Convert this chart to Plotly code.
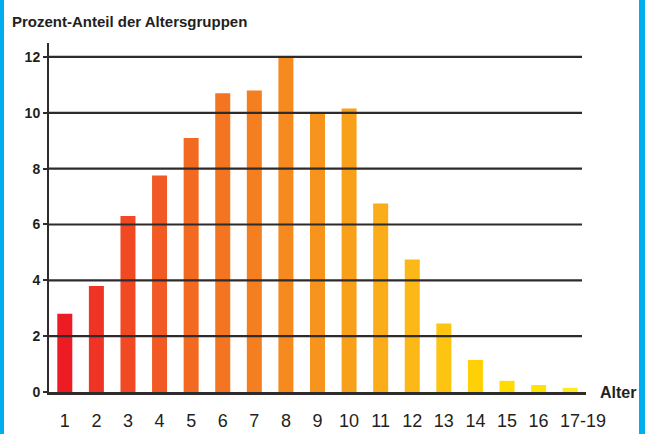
import plotly.graph_objects as go

# Age groups and their share of the population (percent)
ages = ["1", "2", "3", "4", "5", "6", "7", "8", "9", "10", "11", "12",
        "13", "14", "15", "16", "17-19"]
shares = [2.8, 3.8, 6.3, 7.75, 9.1, 10.7, 10.8, 12.0, 10.0, 10.15, 6.75,
          4.75, 2.45, 1.15, 0.4, 0.25, 0.15]

# Red-to-yellow ramp, one colour per age group
bar_colors = ["#ED1C24", "#EF3324", "#F04923", "#F15A24", "#F26A22", "#F37521",
              "#F47F20", "#F68A1F", "#F7941D", "#F9A01B", "#FAAC19", "#FBB817",
              "#FDC412", "#FFD007", "#FFDB00", "#FFE400", "#FFEB1E"]

y_ticks = [0, 2, 4, 6, 8, 10, 12]

INK = "#231F20"
FRAME = "#00AEEF"
FONT = "Liberation Sans, Arial, sans-serif"

W, H = 645, 434
ML, MR, MT, MB = 49, 59, 43, 42
plot_w = W - ML - MR

# The last (range) label is set separately, nudged right of its bar
age_labels = ages[:-1] + [""]

fig = go.Figure(
    go.Bar(
        x=ages,
        y=shares,
        marker=dict(color=bar_colors, line=dict(width=0)),
        hoverinfo="x+y",
    )
)

# Horizontal rules drawn over the bars, stopping a little short of the right end
grid_end = (582 - ML) / plot_w
shapes = [
    dict(type="line", xref="paper", yref="y", x0=0, x1=grid_end, y0=v, y1=v,
         line=dict(color="#2E2B2C", width=2.2), layer="above")
    for v in y_ticks if v > 0
]

# Blue edge strips on both sides of the page
shapes += [
    dict(type="rect", xref="paper", yref="paper",
         x0=-ML / plot_w, x1=(4 - ML) / plot_w, y0=-1, y1=2,
         fillcolor=FRAME, line=dict(width=0), layer="above"),
    dict(type="rect", xref="paper", yref="paper",
         x0=(639 - ML) / plot_w, x1=(W + 5 - ML) / plot_w, y0=-1, y1=2,
         fillcolor=FRAME, line=dict(width=0), layer="above"),
]

fig.update_layout(
    width=W,
    height=H,
    margin=dict(l=ML, r=MR, t=MT, b=MB, pad=0, autoexpand=False),
    paper_bgcolor="white",
    plot_bgcolor="white",
    bargap=0.525,
    showlegend=False,
    shapes=shapes,
    title=dict(
        text="<b>Prozent-Anteil der Altersgruppen</b>",
        font=dict(family=FONT, size=15, color=INK),
        xref="container", yref="container",
        x=12 / W, xanchor="left",
        y=1 - 22 / H, yanchor="middle",
        automargin=False,
    ),
    xaxis=dict(
        type="category",
        range=[-0.5, len(ages) - 0.5],
        tickvals=ages,
        ticktext=age_labels,
        showgrid=False,
        showline=True,
        linecolor="#2E2B2C",
        linewidth=2.5,
        ticks="",
        tickangle=0,
        automargin=False,
        tickfont=dict(family=FONT, size=18, color=INK),
        ticklabelstandoff=11,
        fixedrange=True,
    ),
    yaxis=dict(
        range=[0, 12.5],
        tickvals=y_ticks,
        ticktext=[f"<b>{v}</b>" for v in y_ticks],
        showgrid=False,
        zeroline=False,
        showline=True,
        linecolor="#2E2B2C",
        linewidth=2,
        ticks="outside",
        ticklen=4,
        tickwidth=1.5,
        tickcolor="#2E2B2C",
        automargin=False,
        tickfont=dict(family=FONT, size=14, color=INK),
        fixedrange=True,
    ),
    annotations=[
        dict(
            text="<b>Alter</b>",
            xref="paper", yref="y",
            x=(598 - ML) / plot_w, y=0,
            xanchor="left", yanchor="middle",
            showarrow=False,
            font=dict(family=FONT, size=16, color=INK),
        ),
        dict(
            text=ages[-1],
            xref="x", yref="y",
            x=ages[-1], y=0,
            xanchor="center", yanchor="middle",
            xshift=13, yshift=-29,
            showarrow=False,
            font=dict(family=FONT, size=18, color=INK),
        ),
    ],
)

fig.write_html("out.html")
